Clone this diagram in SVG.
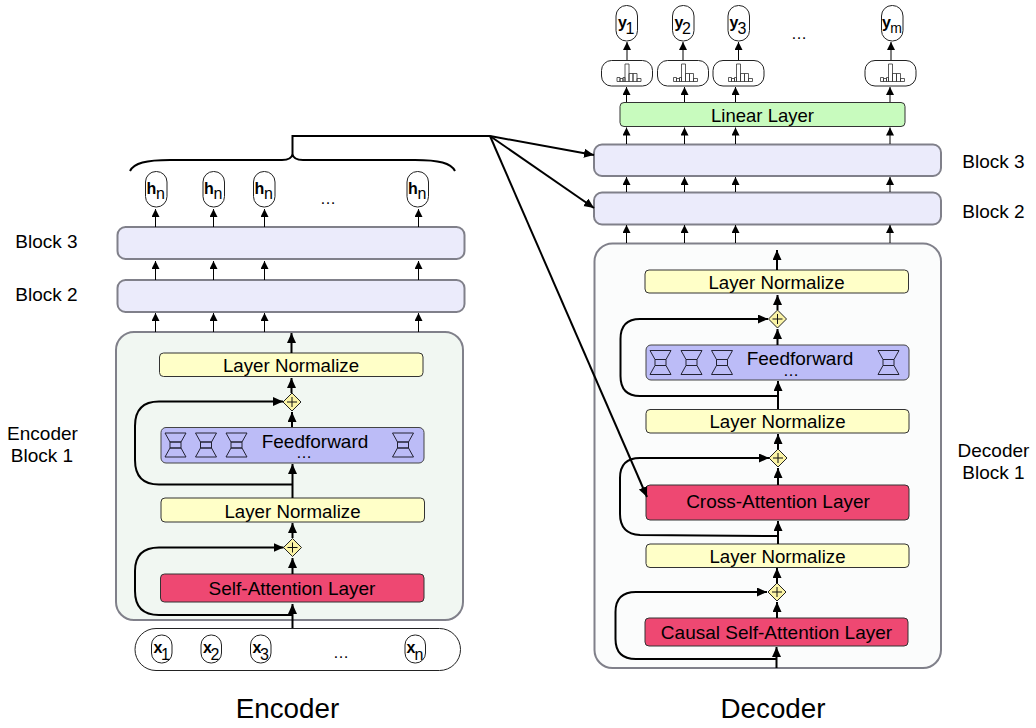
<svg xmlns="http://www.w3.org/2000/svg" width="1036" height="728" viewBox="0 0 1036 728">
<style>
text{font-family:"Liberation Sans",Arial,sans-serif;fill:#000;text-anchor:middle}
.lbl{font-size:19px}
.t{font-size:19px}
.n{font-size:18.7px}
.l{font-size:18.5px}
.dots{font-size:16px}
.big{font-size:27.8px}
.blk{fill:#ebebfb;stroke:#80808a;stroke-width:2}
.enc{fill:#f1f7f2;stroke:#80808a;stroke-width:2}
.dec{fill:#fbfcfc;stroke:#80808a;stroke-width:2}
.norm{fill:#ffffc8;stroke:#333;stroke-width:1}
.ff{fill:#bcbcf7;stroke:#444;stroke-width:1}
.att{fill:#ee4872;stroke:#333;stroke-width:1}
.lin{fill:#c8fbbe;stroke:#333;stroke-width:1}
.pill{fill:#fff;stroke:#222;stroke-width:1}
.dia{fill:#fbf4a6;stroke:#222;stroke-width:1}
.plus{fill:none;stroke:#111;stroke-width:1}
.th{fill:none;stroke:#000;stroke-width:1;marker-end:url(#a1)}
.tk{fill:none;stroke:#000;stroke-width:2;marker-end:url(#a2)}
.ln{fill:none;stroke:#000;stroke-width:2}
.sub{font-size:16px}
.b{font-weight:bold;font-size:16px}
</style>
<defs>
<marker id="a1" markerUnits="userSpaceOnUse" markerWidth="10" markerHeight="10" refX="8" refY="4" orient="auto"><path d="M0 0L8 4L0 8Z" fill="#000"/></marker>
<marker id="a2" markerUnits="userSpaceOnUse" markerWidth="12" markerHeight="10" refX="10" refY="4.500" orient="auto"><path d="M0 0L10 4.500L0 9Z" fill="#000"/></marker>
<g id="hg" fill="none" stroke="#223" stroke-width="1">
<path d="M0 0H21L16 9H5Z"/><path d="M5 9H16V15H5Z"/><path d="M5 15H16L21 24H0Z"/>
</g>
<g id="hist" fill="none" stroke="#333" stroke-width="0.800">
<path d="M0 0H24" /><path d="M0 0V-4H3V0M3 0V-3H6V0M6 0V-4H8V0M8 0V-17.500H12V0M12 0V-8H16V0M16 0V-8H20V0M20 0V-3H24V0"/>
</g>
<path id="plus" d="M-5 0H5M0 -5V5"/>
</defs>
<rect width="1036" height="728" fill="#fff"/>

<g id="encoder-block-1"><rect class="enc" x="116" y="332" width="347" height="288" rx="18"/>
<text class="lbl" x="42.500" y="440">Encoder</text><text class="lbl" x="42" y="461.500">Block 1</text></g>
<g id="enc-norm-top"><rect class="norm" x="159.500" y="353" width="263.500" height="23.500" rx="4"/><text class="t n" x="291" y="372">Layer Normalize</text></g>
<g id="enc-add-top"><path class="dia" d="M292 393L301 402L292 411L283 402Z"/><use href="#plus" x="292" y="402" class="plus"/></g>
<g id="enc-ff"><rect class="ff" x="161" y="427.500" width="263" height="35.500" rx="5"/>
<use href="#hg" x="165" y="433"/><use href="#hg" x="195.500" y="433"/><use href="#hg" x="226" y="433"/><use href="#hg" x="392.500" y="433"/>
<text class="t" x="315" y="447.500">Feedforward</text><text class="dots" x="304" y="458">…</text></g>
<g id="enc-norm-bottom"><rect class="norm" x="161" y="498" width="263.500" height="24" rx="4"/><text class="t n" x="292.500" y="518">Layer Normalize</text></g>
<g id="enc-add-bottom"><path class="dia" d="M292.500 538.500L301.500 547.500L292.500 556.500L283.500 547.500Z"/><use href="#plus" x="292.500" y="547.500" class="plus"/></g>
<g id="enc-attn"><rect class="att" x="160.500" y="574" width="263.500" height="28" rx="4"/><text class="t" x="292" y="595">Self-Attention Layer</text></g>
<g id="enc-inputs"><rect class="pill" x="135" y="628.500" width="325.500" height="42" rx="21"/><text class="dots" x="341" y="658">…</text></g>
<g id="x1"><rect class="pill" x="151.500" y="635" width="20.500" height="28" rx="10"/><text x="158" y="652.500" class="b">x</text><text x="165.500" y="659.500" class="sub">1</text></g>
<g id="x2"><rect class="pill" x="201" y="635" width="20.500" height="28" rx="10"/><text x="207.500" y="652.500" class="b">x</text><text x="215" y="659.500" class="sub">2</text></g>
<g id="x3"><rect class="pill" x="250.500" y="635" width="20.500" height="28" rx="10"/><text x="257" y="652.500" class="b">x</text><text x="264.500" y="659.500" class="sub">3</text></g>
<g id="xn"><rect class="pill" x="405" y="635" width="20.500" height="28" rx="10"/><text x="411" y="652.500" class="b">x</text><text x="419" y="659.500" class="sub">n</text></g>
<g id="enc-block-2"><rect class="blk" x="117.500" y="280" width="347" height="32" rx="8"/><text class="lbl" x="46.500" y="301">Block 2</text></g>
<g id="enc-block-3"><rect class="blk" x="117.500" y="227" width="347" height="32" rx="8"/><text class="lbl" x="46.500" y="248">Block 3</text></g>
<g id="h1"><rect class="pill" x="145.500" y="171.500" width="21.500" height="35.500" rx="10.500"/><text x="151.500" y="193.500" class="b">h</text><text x="160.500" y="199" class="sub">n</text></g>
<g id="h2"><rect class="pill" x="203" y="171.500" width="21.500" height="35.500" rx="10.500"/><text x="209" y="193.500" class="b">h</text><text x="218" y="199" class="sub">n</text></g>
<g id="h3"><rect class="pill" x="253.500" y="171.500" width="21.500" height="35.500" rx="10.500"/><text x="259.500" y="193.500" class="b">h</text><text x="268.500" y="199" class="sub">n</text></g>
<g id="h4"><rect class="pill" x="407" y="171.500" width="21.500" height="35.500" rx="10.500"/><text x="413" y="193.500" class="b">h</text><text x="422" y="199" class="sub">n</text></g>
<text class="dots" x="328" y="204">…</text>

<g id="decoder-block-1"><rect class="dec" x="594.500" y="243.500" width="346.500" height="424.500" rx="18"/>
<text class="lbl" x="993.500" y="457">Decoder</text><text class="lbl" x="993.500" y="478.500">Block 1</text></g>
<g id="dec-norm-top"><rect class="norm" x="645" y="270" width="263.500" height="23" rx="4"/><text class="t n" x="776.500" y="289">Layer Normalize</text></g>
<g id="dec-add-top"><path class="dia" d="M777.500 310L786.500 319L777.500 328L768.500 319Z"/><use href="#plus" x="777.500" y="319" class="plus"/></g>
<g id="dec-ff"><rect class="ff" x="646" y="345" width="263" height="35" rx="5"/>
<use href="#hg" x="650" y="350.500"/><use href="#hg" x="681" y="350.500"/><use href="#hg" x="711.500" y="350.500"/><use href="#hg" x="878" y="350.500"/>
<text class="t" x="800" y="364.500">Feedforward</text><text class="dots" x="791" y="375.500">…</text></g>
<g id="dec-norm-mid"><rect class="norm" x="646" y="409.500" width="263" height="23.500" rx="4"/><text class="t n" x="777.500" y="428">Layer Normalize</text></g>
<g id="dec-add-mid"><path class="dia" d="M778 449L787 458L778 467L769 458Z"/><use href="#plus" x="778" y="458" class="plus"/></g>
<g id="dec-cross"><rect class="att" x="646" y="485" width="263" height="35" rx="4"/><text class="t" x="778" y="508">Cross-Attention Layer</text></g>
<g id="dec-norm-bottom"><rect class="norm" x="646" y="544" width="263" height="23.500" rx="4"/><text class="t n" x="777.500" y="563">Layer Normalize</text></g>
<g id="dec-add-bottom"><path class="dia" d="M777 583L786 592L777 601L768 592Z"/><use href="#plus" x="777" y="592" class="plus"/></g>
<g id="dec-causal"><rect class="att" x="645" y="618" width="263" height="28" rx="4"/><text class="t" x="776.500" y="639">Causal Self-Attention Layer</text></g>
<g id="dec-block-2"><rect class="blk" x="594" y="192.500" width="347" height="32" rx="8"/><text class="lbl" x="993.500" y="218">Block 2</text></g>
<g id="dec-block-3"><rect class="blk" x="594" y="144.500" width="347" height="31.500" rx="8"/><text class="lbl" x="993.500" y="167.500">Block 3</text></g>
<g id="dec-linear"><rect class="lin" x="620" y="102.500" width="285" height="24" rx="4"/><text class="t l" x="762.500" y="121.500">Linear Layer</text></g>
<g id="p1"><rect class="pill" x="601.500" y="60.500" width="51" height="25.500" rx="10"/><use href="#hist" x="617" y="81.500"/></g>
<g id="p2"><rect class="pill" x="657.500" y="60.500" width="51" height="25.500" rx="10"/><use href="#hist" x="673.500" y="81.500"/></g>
<g id="p3"><rect class="pill" x="713" y="60.500" width="51" height="25.500" rx="10"/><use href="#hist" x="728.500" y="81.500"/></g>
<g id="p4"><rect class="pill" x="865" y="60.500" width="51" height="25.500" rx="10"/><use href="#hist" x="880.500" y="81.500"/></g>
<g id="y1"><rect class="pill" x="616" y="5.500" width="21.500" height="35.500" rx="10.500"/><text x="622.500" y="27.500" class="b">y</text><text x="630" y="33.500" class="sub">1</text></g>
<g id="y2"><rect class="pill" x="672.500" y="5.500" width="21.500" height="35.500" rx="10.500"/><text x="679" y="27.500" class="b">y</text><text x="686.500" y="33.500" class="sub">2</text></g>
<g id="y3"><rect class="pill" x="728" y="5.500" width="21.500" height="35.500" rx="10.500"/><text x="734" y="27.500" class="b">y</text><text x="742" y="33.500" class="sub">3</text></g>
<g id="ym"><rect class="pill" x="881.500" y="5.500" width="21.500" height="35.500" rx="10.500"/><text x="886.500" y="27.500" class="b">y</text><text x="896" y="33" class="sub" style="font-size:14px">m</text></g>
<text class="dots" x="799" y="39">…</text>

<text class="big" x="287.500" y="718">Encoder</text>
<text class="big" x="773" y="718">Decoder</text>

<g id="connectors">
<path class="ln" d="M130 171C134 163 146 160 170 160H282C288 160 292 158 292.500 154C293 158 297 160 303 160H415C439 160 451 163 455 171"/>
<path class="ln" d="M292.500 154V136H490"/>
<path class="tk" d="M490 136L594 155"/>
<path class="tk" d="M490 136L594 208"/>
<path class="tk" d="M490 136L647 497"/>

<path class="th" d="M155.500 227V209"/><path class="th" d="M213.500 227V209"/><path class="th" d="M264.500 227V209"/><path class="th" d="M418.500 227V209"/>
<path class="th" d="M155.500 280V261"/><path class="th" d="M213.500 280V261"/><path class="th" d="M264.500 280V261"/><path class="th" d="M418.500 280V261"/>
<path class="th" d="M155.500 332V313"/><path class="th" d="M213.500 332V313"/><path class="th" d="M264.500 332V313"/><path class="th" d="M418.500 332V313"/>
<path class="tk" d="M291.500 353V333"/>
<path class="tk" d="M291.500 393V378"/>
<path class="tk" d="M292 427V412"/>
<path class="tk" d="M292.500 498V464"/>
<path class="tk" d="M292.500 538V523"/>
<path class="tk" d="M292.500 574V558"/>
<path class="tk" d="M292.500 628V604"/>
<path class="tk" d="M292.500 484.500H159Q135 484.500 135 460V426Q135 401.500 159 401.500H283"/>
<path class="tk" d="M292.500 615H159Q135 615 135 591V571Q135 547.500 159 547.500H283.500"/>

<path class="th" d="M627 60V42"/><path class="th" d="M683 60V42"/><path class="th" d="M738.500 60V42"/><path class="th" d="M891 60V42"/>
<path class="th" d="M626.500 102V87"/><path class="th" d="M684.500 102V87"/><path class="th" d="M735.500 102V87"/><path class="th" d="M890 102V87"/>
<path class="th" d="M626.500 144V127.500"/><path class="th" d="M684.500 144V127.500"/><path class="th" d="M735.500 144V127.500"/><path class="th" d="M890 144V127.500"/>
<path class="th" d="M626.500 192V177"/><path class="th" d="M684.500 192V177"/><path class="th" d="M735.500 192V177"/><path class="th" d="M890 192V177"/>
<path class="th" d="M626.500 243V225"/><path class="th" d="M684.500 243V225"/><path class="th" d="M735.500 243V225"/><path class="th" d="M890 243V225"/>
<path class="tk" d="M777 270V250"/>
<path class="tk" d="M777.500 310V295"/>
<path class="tk" d="M777.500 345V329"/>
<path class="tk" d="M778 409V381"/>
<path class="tk" d="M778 449V434"/>
<path class="tk" d="M778 485V468"/>
<path class="tk" d="M778 544V521"/>
<path class="tk" d="M777 583V568"/>
<path class="tk" d="M777 618V602"/>
<path class="tk" d="M776.500 668V647"/>
<path class="tk" d="M778 396H640Q620.500 396 620.500 376V339Q620.500 319 640 319H768"/>
<path class="tk" d="M778 536L640 535Q620 534 620 514V478Q620 458 640 458H769"/>
<path class="tk" d="M776.500 659H636Q615.500 659 615.500 639V612Q615.500 592 636 592H767"/>
</g>
</svg>
